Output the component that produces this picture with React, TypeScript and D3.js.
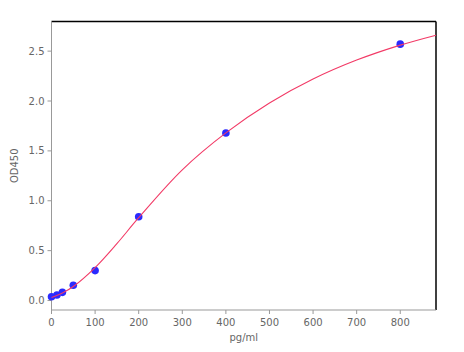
import React from "react";
import * as d3 from "d3";

const concentrations = [0, 12.5, 25, 50, 100, 200, 400, 800];
const odValues = [0.038, 0.055, 0.082, 0.153, 0.3, 0.84, 1.68, 2.57];

const curveX = [0, 25, 50, 100, 150, 200, 300, 400, 500, 600, 700, 800, 882];
const curveY = [0.03, 0.075, 0.14, 0.33, 0.57, 0.83, 1.31, 1.68, 1.98, 2.22, 2.41, 2.56, 2.66];

const xTicks = [0, 100, 200, 300, 400, 500, 600, 700, 800];
const yTicks = [0, 0.5, 1, 1.5, 2, 2.5];

const W = 464;
const H = 352;
const L = 51.5;
const R = 436;
const T = 21.5;
const B = 310;

export default function App() {
  const x = d3.scaleLinear().domain([0, 882]).range([L, R]);
  const y = d3.scaleLinear().domain([-0.095, 2.797]).range([B, T]);
  const line = d3
    .line<number>()
    .x((d) => x(d))
    .y((_, i) => y(curveY[i]))
    .curve(d3.curveCatmullRom.alpha(0.5));
  const font = "DejaVu Sans, sans-serif";
  return (
    <svg
      width={W}
      height={H}
      style={{ position: "absolute", left: 0, top: 0, background: "#fff" }}
      fontFamily={font}
    >
      <rect x={0} y={0} width={W} height={H} fill="#fff" />
      <line x1={L} y1={T} x2={R} y2={T} stroke="#000" strokeWidth={1.5} />
      <line x1={R} y1={T} x2={R} y2={B} stroke="#000" strokeWidth={1.5} />
      <line x1={L} y1={T} x2={L} y2={B} stroke="#999" strokeWidth={1} />
      <line x1={L} y1={B} x2={R} y2={B} stroke="#999" strokeWidth={1} />
      {xTicks.map((t) => (
        <g key={"x" + t}>
          <line x1={x(t)} x2={x(t)} y1={B} y2={B + 4} stroke="#999" />
          <text x={x(t)} y={B + 16} fontSize={10} fill="#666" textAnchor="middle">
            {t}
          </text>
        </g>
      ))}
      {yTicks.map((t) => (
        <g key={"y" + t}>
          <line x1={L - 4} x2={L} y1={y(t)} y2={y(t)} stroke="#999" />
          <text x={L - 7} y={y(t) + 3.5} fontSize={10} fill="#666" textAnchor="end">
            {t.toFixed(1)}
          </text>
        </g>
      ))}
      <text x={(L + R) / 2} y={341} fontSize={10} fill="#666" textAnchor="middle">
        pg/ml
      </text>
      <text
        transform={`translate(18, ${(T + B) / 2}) rotate(-90)`}
        fontSize={10}
        fill="#666"
        textAnchor="middle"
      >
        OD450
      </text>
      {concentrations.map((c, i) => (
        <circle key={"p" + i} cx={x(c)} cy={y(odValues[i])} r={3.8} fill="#2a2aff" />
      ))}
      <path d={line(curveX) || ""} fill="none" stroke="#f23a66" strokeWidth={1.1} />
    </svg>
  );
}
